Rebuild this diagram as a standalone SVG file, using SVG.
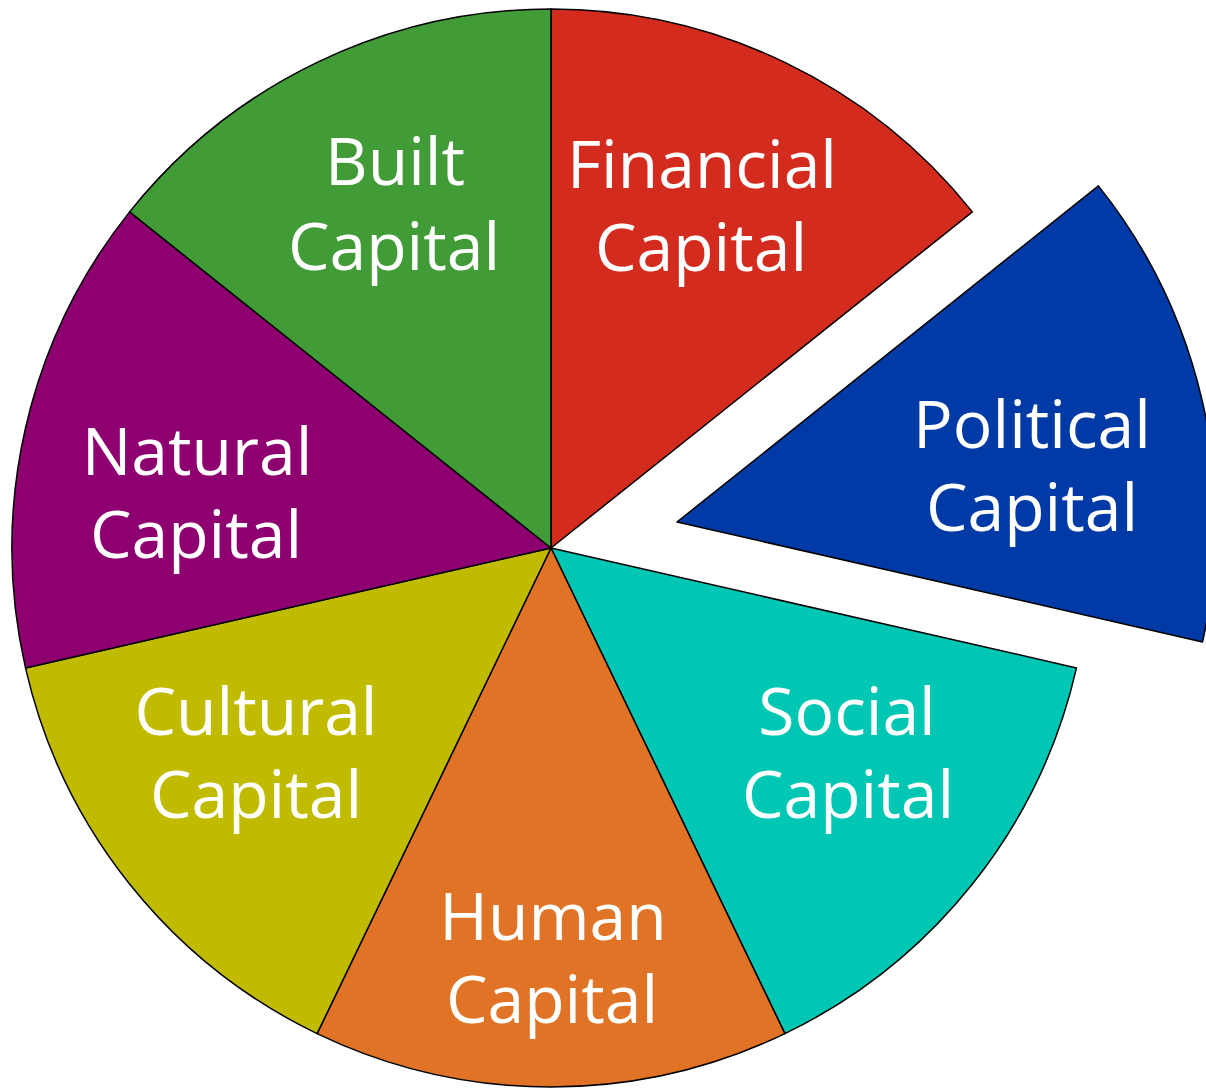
<svg xmlns="http://www.w3.org/2000/svg" width="1206" height="1088" viewBox="0 0 1206 1088">
<style>
.s{stroke:#000;stroke-width:1.5;stroke-linejoin:round}
text{font-family:"Open Sans","Liberation Sans",sans-serif;font-size:66px;fill:#fff;text-anchor:middle}
</style>
<rect width="1206" height="1088" fill="#fff"/>
<g id="financial"><path class="s" fill="#D42B1F" d="M551,548 L551,9 A539,539 0 0 1 972.4,211.9 Z"/><text x="702" y="188">Financial</text><text x="701" y="271">Capital</text></g>
<g id="political"><path class="s" fill="#003AA6" d="M677,522 L1098.4,185.9 A539,539 0 0 1 1202.5,641.9 Z"/><text x="1032" y="448">Political</text><text x="1032" y="531">Capital</text></g>
<g id="social"><path class="s" fill="#00C6B4" d="M551,548 L1076.5,667.9 A539,539 0 0 1 784.9,1033.6 Z"/><text x="847" y="735">Social</text><text x="848" y="818">Capital</text></g>
<g id="human"><path class="s" fill="#E07325" d="M551,548 L784.9,1033.6 A539,539 0 0 1 317.1,1033.6 Z"/><text x="553" y="940">Human</text><text x="552" y="1023">Capital</text></g>
<g id="cultural"><path class="s" fill="#C1BB00" d="M551,548 L317.1,1033.6 A539,539 0 0 1 25.5,667.9 Z"/><text x="256" y="735">Cultural</text><text x="256" y="818">Capital</text></g>
<g id="natural"><path class="s" fill="#8E0070" d="M551,548 L25.5,667.9 A539,539 0 0 1 129.6,211.9 Z"/><text x="197" y="475">Natural</text><text x="196" y="558">Capital</text></g>
<g id="built"><path class="s" fill="#419B36" d="M551,548 L129.6,211.9 A539,539 0 0 1 551,9 Z"/><text x="395" y="185">Built</text><text x="394" y="270">Capital</text></g>
<g id="connectors"/>
</svg>
